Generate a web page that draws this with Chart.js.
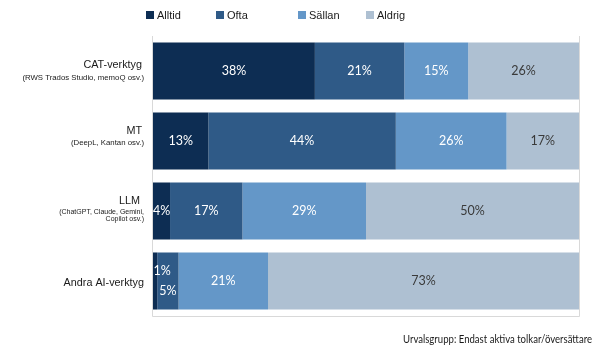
<!DOCTYPE html>
<html>
<head>
<meta charset="utf-8">
<script src="https://cdn.jsdelivr.net/npm/chart.js@4/dist/chart.umd.min.js"></script>
<style>
  html, body { margin: 0; padding: 0; background: #ffffff; }
  #wrap { position: relative; width: 605px; height: 357px; }
</style>
</head>
<body>
<div id="wrap"><canvas id="c" width="605" height="357"></canvas></div>
<script>
// ---- data ----
const categories = ["CAT-verktyg", "MT", "LLM", "Andra AI-verktyg"];
const categoryNotes = [
  ["(RWS Trados Studio, memoQ osv.)"],
  ["(DeepL, Kantan osv.)"],
  ["(ChatGPT, Claude, Gemini,", "Copilot osv.)"],
  []
];
const seriesNames = ["Alltid", "Ofta", "Sällan", "Aldrig"];
const alltid = [38, 13, 4, 1];
const ofta   = [21, 44, 17, 5];
const sallan = [15, 26, 29, 21];
const aldrig = [26, 17, 50, 73];
const footnote = "Urvalsgrupp: Endast aktiva tolkar/översättare";

// ---- styles ----
const colors = ["#0d2d53", "#2f5a87", "#6497c8", "#aec0d2"];
const labelColors = ["#ffffff", "#ffffff", "#ffffff", "#3a3a3a"];
const seriesValues = [alltid, ofta, sallan, aldrig];

const datasets = seriesNames.map((name, i) => ({
  label: name,
  data: seriesValues[i],
  backgroundColor: colors[i],
  borderWidth: 0,
  barPercentage: 0.815,
  categoryPercentage: 1.0
}));

// vertical offsets (px) of the category label lines relative to bar centre
const labelLayout = [
  { main: -6, notes: [7] },
  { main: -10, notes: [2] },
  { main: -10, notes: [1, 8] },
  { main: 2, notes: [] }
];

const layoutPlugin = {
  id: 'customDraw',
  beforeDraw(chart) {
    const ctx = chart.ctx;
    ctx.save();
    ctx.fillStyle = '#ffffff';
    ctx.fillRect(0, 0, chart.width, chart.height);
    ctx.restore();
  },
  afterDatasetsDraw(chart) {
    const ctx = chart.ctx;
    const area = chart.chartArea;
    ctx.save();
    // frame
    ctx.strokeStyle = '#d9d9d9';
    ctx.lineWidth = 1;
    ctx.beginPath();
    ctx.moveTo(Math.round(area.left) - 0.5, area.top);
    ctx.lineTo(Math.round(area.left) - 0.5, area.bottom + 0.5);
    ctx.lineTo(Math.round(area.right) + 0.5, area.bottom + 0.5);
    ctx.lineTo(Math.round(area.right) + 0.5, area.top);
    ctx.stroke();

    // data labels
    ctx.font = '12.5px Lato, "Open Sans", sans-serif';
    ctx.textBaseline = 'middle';
    chart.data.datasets.forEach((ds, di) => {
      const meta = chart.getDatasetMeta(di);
      meta.data.forEach((el, idx) => {
        const v = ds.data[idx];
        const txt = v + '%';
        const cx = (el.x + el.base) / 2;
        const cy = el.y;
        const prev = di > 0 ? chart.data.datasets[di - 1].data[idx] : null;
        const next = di < chart.data.datasets.length - 1 ? chart.data.datasets[di + 1].data[idx] : null;
        ctx.fillStyle = labelColors[di];
        if (v < 3 && next !== null && next < 8) {
          ctx.textAlign = 'left';
          ctx.fillText(txt, Math.min(el.x, el.base) + 0.5, cy - 10);
        } else if (v < 8 && prev !== null && prev < 3) {
          ctx.textAlign = 'center';
          ctx.fillText(txt, cx, cy + 10);
        } else {
          ctx.textAlign = 'center';
          ctx.fillText(txt, cx, cy);
        }
      });
    });

    // category labels
    const yScale = chart.scales.y;
    ctx.fillStyle = '#1a1a1a';
    ctx.textAlign = 'right';
    ctx.textBaseline = 'middle';
    const xr = area.left - 9;
    categories.forEach((cat, i) => {
      const cy = yScale.getPixelForValue(i);
      const notes = categoryNotes[i];
      const lay = labelLayout[i];
      ctx.font = '10.8px "Liberation Sans", Arial, sans-serif';
      const indent = notes.length === 0 ? 0 : (notes.length === 1 ? 2 : 4);
      ctx.fillText(cat, xr - indent, cy + lay.main);
      ctx.font = (notes.length > 1 ? '7px' : '7.8px') + ' "Liberation Sans", Arial, sans-serif';
      notes.forEach((n, k) => ctx.fillText(n, xr, cy + lay.notes[k]));
    });

    // legend
    const legendX = [146, 216, 298, 366];
    ctx.font = '11px "Liberation Sans", Arial, sans-serif';
    ctx.textAlign = 'left';
    chart.data.datasets.forEach((ds, di) => {
      ctx.fillStyle = ds.backgroundColor;
      ctx.fillRect(legendX[di], 11, 8, 8);
      ctx.fillStyle = '#1a1a1a';
      ctx.fillText(ds.label, legendX[di] + 11, 15.5);
    });

    // footnote
    ctx.font = '11px Lato, "Open Sans", sans-serif';
    ctx.textAlign = 'right';
    ctx.fillStyle = '#1a1a1a';
    ctx.fillText(footnote, 592, 339, 189);
    ctx.restore();
  }
};

new Chart(document.getElementById('c'), {
  type: 'bar',
  data: { labels: categories, datasets: datasets },
  options: {
    indexAxis: 'y',
    responsive: false,
    animation: false,
    layout: { padding: { left: 153, right: 26, top: 36, bottom: 41 } },
    plugins: { legend: { display: false }, tooltip: { enabled: false } },
    scales: {
      x: { stacked: true, min: 0, max: 100, display: false },
      y: { stacked: true, display: false }
    }
  },
  plugins: [layoutPlugin]
});
</script>
</body>
</html>
